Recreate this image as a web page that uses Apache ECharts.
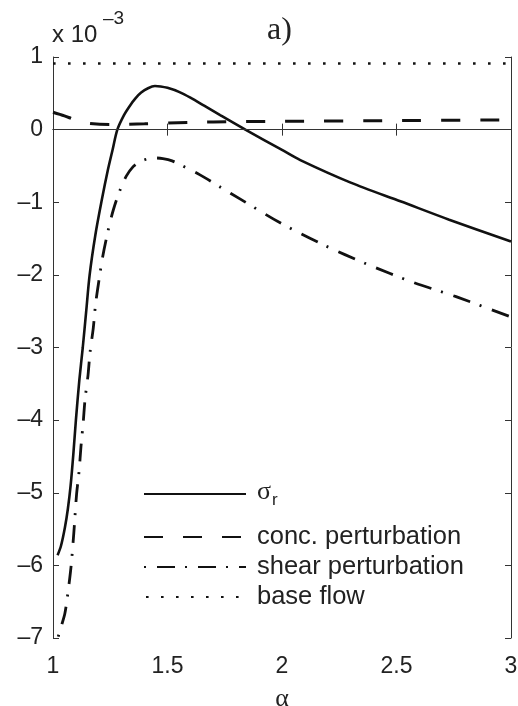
<!DOCTYPE html>
<html>
<head>
<meta charset="utf-8">
<script src="https://cdn.jsdelivr.net/npm/echarts@6/dist/echarts.min.js"></script>
<style>
  html, body { margin: 0; padding: 0; background: #fff; }
  #chart { width: 518px; height: 706px; }
</style>
</head>
<body>
<div id="chart"></div>
<script>
// Growth rate sigma_r and its contributions versus wavenumber alpha (values in units of 1e-3)
const xTicks = [1, 1.5, 2, 2.5, 3];
const yTicks = [-7, -6, -5, -4, -3, -2, -1, 0, 1];

const sigmaAlpha = [1.02, 1.035, 1.052, 1.065, 1.077, 1.089, 1.100, 1.115, 1.130, 1.145, 1.160, 1.185, 1.213, 1.24, 1.26, 1.281, 1.31, 1.336, 1.36, 1.385, 1.415, 1.445, 1.47, 1.50, 1.55, 1.60, 1.66, 1.73, 1.84, 2.00, 2.08, 2.30, 2.52, 2.73, 3.00];
const sigmaR     = [-5.86, -5.73, -5.48, -5.22, -4.90, -4.46, -4.00, -3.45, -3.00, -2.50, -2.00, -1.45, -0.97, -0.55, -0.28, 0.00, 0.20, 0.33, 0.43, 0.51, 0.57, 0.60, 0.595, 0.575, 0.52, 0.44, 0.33, 0.20, 0.00, -0.28, -0.42, -0.73, -0.99, -1.24, -1.54];

const concAlpha = [1.00, 1.05, 1.10, 1.15, 1.25, 1.40, 1.60, 1.80, 2.00, 2.50, 3.00];
const concPert  = [0.24, 0.19, 0.13, 0.09, 0.07, 0.08, 0.10, 0.11, 0.115, 0.125, 0.135];

const shearAlpha = [1.023, 1.035, 1.052, 1.067, 1.079, 1.091, 1.103, 1.114, 1.122, 1.132, 1.140, 1.153, 1.162, 1.176, 1.186, 1.201, 1.217, 1.24, 1.263, 1.293, 1.32, 1.35, 1.375, 1.41, 1.445, 1.48, 1.52, 1.56, 1.64, 1.73, 1.82, 1.99, 2.18, 2.37, 2.57, 2.76, 3.00];
const shearPert  = [-6.98, -6.85, -6.66, -6.33, -6.01, -5.55, -5.02, -4.70, -4.37, -4.03, -3.71, -3.38, -3.06, -2.73, -2.40, -2.07, -1.75, -1.40, -1.11, -0.83, -0.64, -0.51, -0.45, -0.405, -0.39, -0.40, -0.43, -0.49, -0.62, -0.79, -0.96, -1.28, -1.585, -1.85, -2.10, -2.30, -2.58];

const baseAlpha = [1, 3];
const baseFlow  = [0.91, 0.91];

const seriesNames = ['σr', 'conc. perturbation', 'shear perturbation', 'base flow'];

const pairs = (xs, ys) => xs.map((x, i) => [x, ys[i]]);
const ink = '#111';
const sans = 'Liberation Sans';
const serif = 'Liberation Serif';

const chart = echarts.init(document.getElementById('chart'), null, { renderer: 'canvas' });

const fmtY = v => (v < 0 ? '\u2013' + Math.abs(v) : String(v));

const axisCommon = {
  axisLine: { show: true, lineStyle: { color: '#333', width: 1 } },
  axisTick: { show: true, inside: true, length: 6, lineStyle: { color: '#333', width: 1 } },
  splitLine: { show: false }
};

const legendCommon = {
  left: 143,
  orient: 'vertical',
  padding: 0,
  itemWidth: 102,
  itemHeight: 14,
  itemStyle: { opacity: 0 }
};

chart.setOption({
  animation: false,
  backgroundColor: '#fff',
  title: {
    text: 'a)',
    left: 262,
    top: 10,
    textStyle: { fontFamily: serif, fontSize: 32, fontWeight: 'normal', color: '#222' }
  },
  graphic: [
    { type: 'text', left: 52, top: 23, style: { text: 'x 10', font: '24px "Liberation Sans"', fill: '#222' } },
    { type: 'text', left: 103, top: 9, style: { text: '\u2013' + '3', font: '19px "Liberation Sans"', fill: '#222' } }
  ],
  grid: { left: 53, top: 57, width: 458, height: 581, containLabel: false, outerBoundsMode: 'none' },
  legend: [
    Object.assign({
      data: [seriesNames[0]],
      top: 479,
      formatter: () => '{s|σ}{r|r}',
      textStyle: {
        color: '#222',
        padding: [0, 0, 0, 6],
        rich: {
          s: { fontFamily: serif, fontSize: 26, lineHeight: 30, color: '#222', verticalAlign: 'top', padding: [0, 0, 10, 0] },
          r: { fontFamily: sans, fontSize: 17, lineHeight: 30, color: '#222', verticalAlign: 'bottom', padding: [12, 0, 0, 1] }
        }
      }
    }, legendCommon),
    Object.assign({
      data: seriesNames.slice(1),
      top: 524,
      itemGap: 4,
      textStyle: { color: '#222', fontFamily: sans, fontSize: 25.5, lineHeight: 26, padding: [0, 0, 0, 6] }
    }, legendCommon)
  ],
  xAxis: [
    Object.assign({
      type: 'value', min: xTicks[0], max: xTicks[xTicks.length - 1], interval: 0.5,
      position: 'bottom',
      name: 'α', nameLocation: 'middle', nameGap: 48,
      nameTextStyle: { fontFamily: serif, fontSize: 26, color: '#222' },
      axisLabel: { show: true, margin: 17, color: '#222', fontFamily: sans, fontSize: 23, formatter: v => String(v) }
    }, axisCommon),
    Object.assign({
      type: 'value', min: xTicks[0], max: xTicks[xTicks.length - 1], interval: 0.5,
      position: 'top', axisLabel: { show: false }
    }, axisCommon)
  ],
  yAxis: [
    Object.assign({
      type: 'value', min: yTicks[0], max: yTicks[yTicks.length - 1], interval: 1,
      position: 'left',
      axisLabel: { show: true, margin: 10, color: '#222', fontFamily: sans, fontSize: 23, formatter: fmtY }
    }, axisCommon),
    Object.assign({
      type: 'value', min: yTicks[0], max: yTicks[yTicks.length - 1], interval: 1,
      position: 'right', axisLabel: { show: false }
    }, axisCommon)
  ],
  series: [
    {
      name: seriesNames[0], type: 'line', data: pairs(sigmaAlpha, sigmaR),
      showSymbol: false, symbol: 'none', smooth: 0.3,
      lineStyle: { color: ink, width: 2.6, type: 'solid' },
      itemStyle: { color: ink },
      markLine: {
        silent: true, symbol: 'none', label: { show: false },
        lineStyle: { color: '#333', width: 1, type: 'solid' },
        data: [{ yAxis: 0 }]
      }
    },
    {
      name: seriesNames[1], type: 'line', data: pairs(concAlpha, concPert),
      showSymbol: false, symbol: 'none', smooth: 0.3,
      lineStyle: { color: ink, width: 3, type: [19, 20] },
      itemStyle: { color: ink }
    },
    {
      name: seriesNames[2], type: 'line', data: pairs(shearAlpha, shearPert),
      showSymbol: false, symbol: 'none', smooth: 0.3,
      lineStyle: { color: ink, width: 2.8, type: [18, 10, 2, 11], dashOffset: 28 },
      itemStyle: { color: ink }
    },
    {
      name: seriesNames[3], type: 'line', data: pairs(baseAlpha, baseFlow),
      showSymbol: false, symbol: 'none',
      lineStyle: { color: ink, width: 2.6, type: [2.6, 12.4] },
      itemStyle: { color: ink }
    }
  ]
});
</script>
</body>
</html>
